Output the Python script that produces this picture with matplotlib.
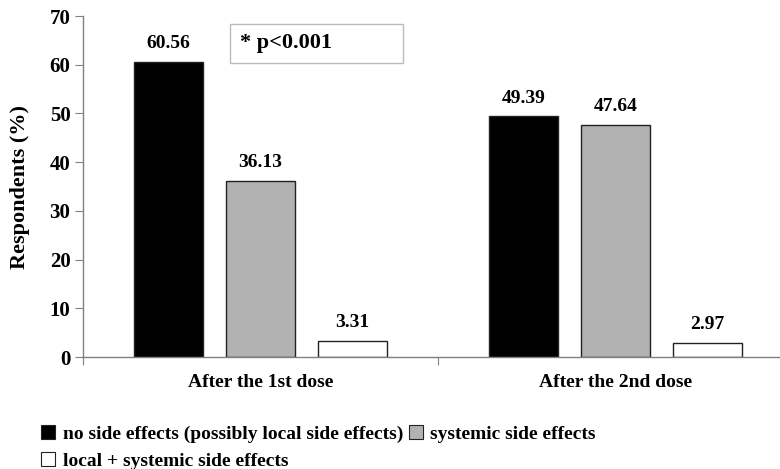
import numpy as np
import matplotlib
matplotlib.use("Agg")
import matplotlib.pyplot as plt
from matplotlib.patches import Patch, Rectangle

plt.rcParams['font.family'] = ['Liberation Serif', 'DejaVu Serif']
plt.rcParams['font.weight'] = 'bold'

# 接種回数ごとの副反応の割合 (%)
doses = ["After the 1st dose", "After the 2nd dose"]
no_effects = [60.56, 49.39]
systemic = [36.13, 47.64]
local_systemic = [3.31, 2.97]

series = [
    ("no side effects (possibly local side effects)", no_effects, "black"),
    ("systemic side effects", systemic, "#b2b2b2"),
    ("local + systemic side effects", local_systemic, "white"),
]

fig = plt.figure(figsize=(7.8, 4.69), dpi=100)
ax = fig.add_axes([0.1064, 0.2388, 0.910, 0.727])

x = np.arange(len(doses))
width = 0.194
step = 0.259
handles = []
for i, (name, vals, color) in enumerate(series):
    pos = x + (i - 1) * step
    bars = ax.bar(pos, vals, width, color=color, edgecolor="#222222", linewidth=1.0)
    for b, v in zip(bars, vals):
        ax.annotate(f"{v:.2f}", (b.get_x() + b.get_width() / 2, v),
                    xytext=(0, 7), textcoords="offset points",
                    ha="center", va="bottom", fontsize=14, fontweight="bold")
    handles.append(Patch(facecolor=color, edgecolor="#222222", linewidth=0.8, label=name))

ax.set_xlim(-0.5, 1.5)
ax.set_ylim(0, 70)
ax.set_yticks(range(0, 71, 10))
ax.set_xticks([-0.5, 0.5, 1.5])
ax.set_xticklabels([])
ax.set_xticks(x, minor=True)
ax.set_xticklabels(doses, minor=True, fontsize=14, fontweight="bold")
ax.tick_params(axis="x", which="minor", length=0, pad=12)
ax.tick_params(axis="x", which="major", length=6, color="#808080", direction="out")
ax.tick_params(axis="y", length=6, color="#808080", labelsize=15, pad=3)
for lab in ax.get_yticklabels():
    lab.set_fontweight("bold")

for s in ["top", "right"]:
    ax.spines[s].set_visible(False)
for s in ["left", "bottom"]:
    ax.spines[s].set_color("#808080")
    ax.spines[s].set_linewidth(1.0)

ax.set_ylabel("Respondents (%)", fontsize=16, fontweight="bold", labelpad=14)

# p値の注記ボックス
ax.add_patch(Rectangle((0.207, 0.862), 0.244, 0.115, transform=ax.transAxes,
                       facecolor="white", edgecolor="#bbbbbb", linewidth=1.0))
ax.text(0.221, 0.920, "* p<0.001", transform=ax.transAxes, fontsize=16,
        fontweight="bold", va="center", ha="left")

# 凡例: 1行目に2項目、2行目に1項目
fig.legend([handles[0], handles[2], handles[1]],
           [h.get_label() for h in (handles[0], handles[2], handles[1])],
           ncol=2, loc="upper left", bbox_to_anchor=(0.053, 0.094),
           frameon=False, fontsize=14, handlelength=0.7, handleheight=0.7,
           handletextpad=0.4, columnspacing=0.3, labelspacing=0.5,
           borderaxespad=0, borderpad=0)

fig.savefig("out.png", dpi=100)
